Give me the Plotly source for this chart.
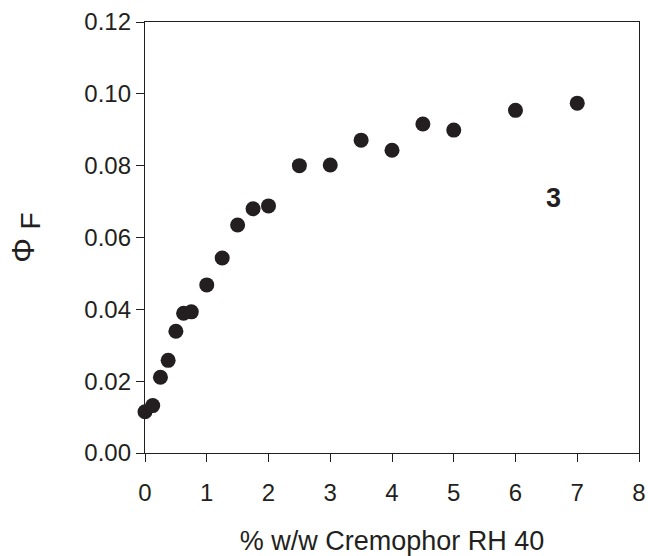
import plotly.graph_objects as go

conc = [0, 0.125, 0.25, 0.375, 0.5, 0.625, 0.75, 1.0, 1.25, 1.5, 1.75, 2.0, 2.5, 3.0, 3.5, 4.0, 4.5, 5.0, 6.0, 7.0]
phi_f = [0.0115, 0.0132, 0.0211, 0.0258, 0.0339, 0.0389, 0.0393, 0.0468, 0.0543, 0.0635, 0.0680, 0.0688,
         0.0800, 0.0802, 0.0871, 0.0843, 0.0916, 0.0899, 0.0954, 0.0974]
x_ticks = [0, 1, 2, 3, 4, 5, 6, 7, 8]
y_ticks = [0.00, 0.02, 0.04, 0.06, 0.08, 0.10, 0.12]
y_tick_labels = ["0.00", "0.02", "0.04", "0.06", "0.08", "0.10", "0.12"]

ink = "#231f20"
fig = go.Figure()
fig.add_trace(go.Scatter(x=conc, y=phi_f, mode="markers",
                         marker=dict(size=15, color=ink, line=dict(width=0)),
                         showlegend=False, cliponaxis=False))
fig.add_annotation(x=6.62, y=0.071, text="<b>3</b>", showarrow=False,
                   font=dict(size=27, color=ink, family="Liberation Sans, Arial"))

fig.update_layout(
    width=648, height=556,
    margin=dict(l=145, r=9, t=22, b=103),
    plot_bgcolor="white", paper_bgcolor="white",
    font=dict(family="Liberation Sans, Arial", size=24, color=ink),
)
fig.update_xaxes(range=[0, 8], tickvals=x_ticks, ticks="outside", ticklen=8, tickwidth=1.3,
                 tickcolor=ink, showline=True, linecolor=ink, linewidth=1.3, mirror=True,
                 showgrid=False, zeroline=False, automargin=False, ticklabelstandoff=10,
                 title=dict(text="% w/w Cremophor RH 40", font=dict(size=27), standoff=28))
fig.update_yaxes(range=[0, 0.12], tickvals=y_ticks, ticktext=y_tick_labels, ticks="outside",
                 ticklen=8, tickwidth=1.3, tickcolor=ink, showline=True, linecolor=ink,
                 linewidth=1.3, mirror=True, showgrid=False, zeroline=False, automargin=False,
                 title=dict(text="Φ <sub><span style='font-size:28px'>F</span></sub>",
                            font=dict(size=31), standoff=40))
fig.write_html("out.html")
